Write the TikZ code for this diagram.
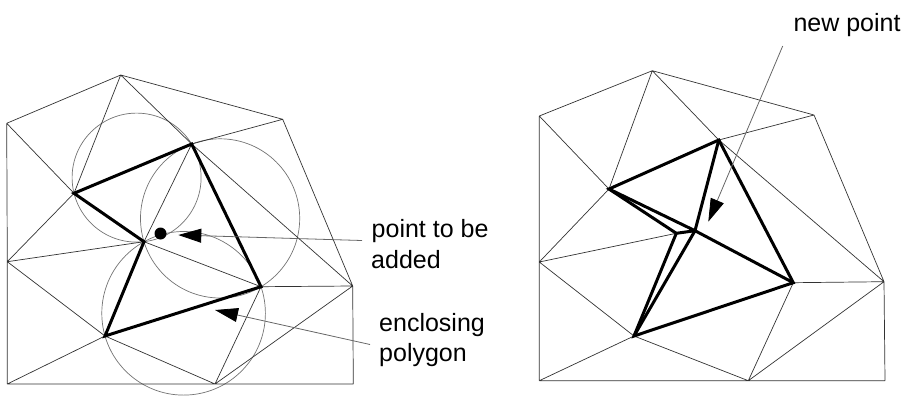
\documentclass[tikz,border=0pt]{standalone}
\usepackage{fontspec}
\setmainfont{Liberation Sans}
\usetikzlibrary{arrows.meta}
\begin{document}
\begin{tikzpicture}[x=1pt,y=-1pt,
  thinedge/.style={black!80,line width=0.7pt},
  thickedge/.style={black,line width=3pt,line join=miter},
  circum/.style={black!55,line width=0.7pt},
  pointer/.style={black!60,line width=0.8pt,-{Triangle[length=23pt,width=14pt,fill=black,color=black]}},
  lbl/.style={anchor=base west,inner sep=0pt,font=\fontsize{25}{30}\selectfont}]
\useasboundingbox (0,0) rectangle (904,397);

% ---- left mesh: before insertion ----
\coordinate (lA)  at (120.7,75);
\coordinate (lB)  at (6.7,123.3);
\coordinate (lC)  at (282.7,119.3);
\coordinate (lP1) at (74,193.3);
\coordinate (lP2) at (191.7,144);
\coordinate (lQ)  at (144,241.7);
\coordinate (lP3) at (261,286.7);
\coordinate (lP4) at (105,336);
\coordinate (lD)  at (7.3,261.7);
\coordinate (lE)  at (352.7,286);
\coordinate (lBL) at (7.3,384);
\coordinate (lBM) at (215,384);
\coordinate (lBR) at (353.3,384);

% circumcircles of the triangles containing the new point
\draw[circum] (136.6,177.6) circle[radius=64.5];
\draw[circum] (220.1,218.4) circle[radius=79.6];
\draw[circum] (183.6,313.3) circle[radius=81.8];

\draw[thinedge] (lA)--(lB) (lA)--(lC) (lA)--(lP1) (lA)--(lP2)
  (lB)--(lP1) (lB)--(lD) (lD)--(lBL) (lC)--(lP2) (lC)--(lE) (lP2)--(lE)
  (lP2)--(lQ) (lQ)--(lP3) (lQ)--(lD) (lP1)--(lD) (lD)--(lP4)
  (lP4)--(lBL) (lP4)--(lBM) (lP3)--(lBM) (lP3)--(lE) (lE)--(lBM)
  (lE)--(lBR) (lBL)--(lBM) (lBM)--(lBR);
\draw[thickedge] (lP1)--(lP2)--(lP3)--(lP4)--(lQ)--cycle;

\fill (160.5,233.5) circle[radius=6] coordinate (dot);

% ---- right mesh: after insertion ----
\coordinate (rA)  at (652.3,70.7);
\coordinate (rB)  at (539.3,116);
\coordinate (rC)  at (814,115);
\coordinate (rP1) at (609,189);
\coordinate (rP2) at (718.8,140);
\coordinate (rQ)  at (676.3,233.3);
\coordinate (rN)  at (695,230.7);
\coordinate (rP3) at (793.3,282.7);
\coordinate (rP4) at (634,336);
\coordinate (rD)  at (539.3,262);
\coordinate (rE)  at (884,281.7);
\coordinate (rBL) at (539.3,380.7);
\coordinate (rBM) at (748.3,380.7);
\coordinate (rBR) at (885,380.7);

\draw[thinedge] (rA)--(rB) (rA)--(rC) (rA)--(rP1) (rA)--(rP2)
  (rB)--(rP1) (rB)--(rD) (rD)--(rBL) (rC)--(rP2) (rC)--(rE) (rP2)--(rE)
  (rQ)--(rD) (rP1)--(rD) (rD)--(rP4)
  (rP4)--(rBL) (rP4)--(rBM) (rP3)--(rBM) (rP3)--(rE) (rE)--(rBM)
  (rE)--(rBR) (rBL)--(rBM) (rBM)--(rBR);
\draw[thickedge] (rP1)--(rP2)--(rP3)--(rP4)--(rQ)--cycle;
\draw[thickedge] (rN)--(rP1) (rN)--(rP2) (rN)--(rP3) (rN)--(rP4) (rN)--(rQ);

% ---- labels and pointers ----
\node[lbl] (t1a) at (371.5,237.7) {point to be};
\node[lbl] (t1b) at (371,268.3) {added};
\node[lbl] (t2a) at (379,331.7) {enclosing};
\node[lbl] (t2b) at (379,361.7) {polygon};
\node[lbl] (t3)  at (793.3,31.7) {new point};

\coordinate (s1) at (362,240.5);
\coordinate (h1) at (178.3,235);
\coordinate (s2) at (370,344.5);
\coordinate (h2) at (215,310);
\coordinate (s3) at (782.7,46);
\coordinate (h3) at (708.3,221.7);
\draw[pointer] (s1)--(h1);
\draw[pointer] (s2)--(h2);
\draw[pointer] (s3)--(h3);
\end{tikzpicture}
\end{document}
